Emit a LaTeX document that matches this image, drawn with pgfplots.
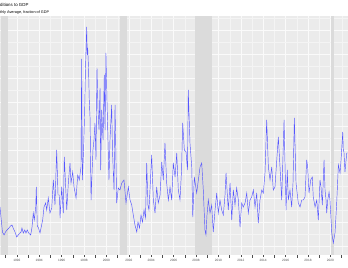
\documentclass[border=0pt]{standalone}
\usepackage{pgfplots}
\pgfplotsset{compat=1.18}
\usepackage{pgfplotstable}
\usepackage{fontspec}
\setmainfont{Liberation Sans}
\definecolor{panel}{RGB}{235,235,235}
\definecolor{recess}{RGB}{219,219,219}
\definecolor{series}{RGB}{85,85,255}
\definecolor{axtext}{RGB}{77,77,77}
\definecolor{gridmaj}{RGB}{250,250,250}
\definecolor{gridmin}{RGB}{244,244,244}

\pgfplotstableread{
year v
1990.50 48
1990.63 33
1990.72 23
1990.86 20
1990.99 23
1991.13 25
1991.30 27
1991.44 29
1991.57 30
1991.71 26
1991.84 23
1991.99 18
1992.13 20
1992.29 22
1992.38 23
1992.46 27
1992.58 22
1992.71 25
1992.82 22
1992.94 25
1993.06 22
1993.24 20
1993.36 28
1993.47 42
1993.56 35
1993.69 48
1993.74 68
1993.83 29
1993.94 27
1994.07 22
1994.22 30
1994.31 35
1994.43 48
1994.58 52
1994.67 45
1994.81 57
1994.96 42
1995.12 47
1995.26 75
1995.41 50
1995.56 105
1995.68 60
1995.81 60
1995.86 37
1996.01 68
1996.15 42
1996.24 98
1996.39 62
1996.46 45
1996.60 72
1996.75 92
1996.84 72
1996.99 83
1997.11 68
1997.29 57
1997.44 80
1997.58 75
1997.73 88
1997.79 196
1997.85 75
1997.96 105
1998.04 135
1998.13 185
1998.24 228
1998.29 200
1998.33 207
1998.40 188
1998.47 155
1998.54 137
1998.63 55
1998.71 80
1998.80 105
1998.89 115
1998.98 132
1999.07 95
1999.16 187
1999.25 145
1999.34 125
1999.43 167
1999.49 85
1999.58 145
1999.70 115
1999.81 180
1999.88 125
1999.96 202
2000.05 155
2000.14 115
2000.23 75
2000.32 115
2000.47 150
2000.54 105
2000.68 65
2000.77 150
2000.92 52
2001.06 67
2001.21 65
2001.37 72
2001.57 75
2001.75 52
2001.96 68
2002.11 55
2002.26 50
2002.40 40
2002.55 30
2002.71 23
2002.82 33
2002.96 27
2003.09 40
2003.22 33
2003.36 45
2003.49 37
2003.60 92
2003.71 50
2003.80 45
2003.89 65
2004.04 100
2004.19 55
2004.34 42
2004.49 68
2004.63 52
2004.79 60
2004.94 93
2005.08 75
2005.23 112
2005.38 72
2005.53 55
2005.68 68
2005.83 55
2005.97 92
2006.13 78
2006.28 102
2006.42 65
2006.57 55
2006.71 85
2006.81 132
2006.96 105
2007.11 103
2007.24 85
2007.31 165
2007.46 112
2007.62 88
2007.71 38
2007.85 78
2008.06 62
2008.21 75
2008.36 88
2008.51 92
2008.65 65
2008.80 25
2008.89 20
2008.98 40
2009.10 55
2009.25 42
2009.40 50
2009.54 23
2009.70 45
2009.85 62
2009.99 42
2010.14 55
2010.29 45
2010.44 40
2010.59 60
2010.68 82
2010.88 45
2011.04 72
2011.19 35
2011.33 65
2011.48 50
2011.63 67
2011.78 55
2011.93 28
2012.08 52
2012.22 48
2012.38 52
2012.53 62
2012.67 42
2012.82 55
2012.97 58
2013.12 65
2013.27 48
2013.42 62
2013.56 32
2013.71 55
2013.87 65
2014.01 62
2014.16 82
2014.31 135
2014.46 88
2014.61 75
2014.76 88
2014.90 65
2015.05 68
2015.21 95
2015.35 118
2015.50 88
2015.65 55
2015.86 135
2016.04 45
2016.15 85
2016.24 55
2016.39 65
2016.54 48
2016.66 72
2016.78 137
2016.93 72
2017.13 52
2017.29 48
2017.44 55
2017.58 55
2017.73 58
2017.88 95
2017.97 88
2018.09 62
2018.24 75
2018.38 78
2018.47 58
2018.63 48
2018.78 55
2018.92 35
2019.07 75
2019.16 68
2019.28 50
2019.43 95
2019.52 65
2019.61 55
2019.67 42
2019.76 55
2019.88 63
2019.96 55
2020.12 22
2020.26 12
2020.41 22
2020.56 52
2020.71 90
2020.86 82
2020.95 95
2021.10 123
2021.15 105
2021.21 103
2021.30 83
2021.46 102
2021.57 102
}\series

\begin{document}
\begin{tikzpicture}[x=1bp,y=1bp]
\path[use as bounding box] (0,0) rectangle (348,268);
\clip (0,0) rectangle (348,268);
\node[anchor=base west,inner sep=0pt,text=black,font=\fontsize{4.4}{5}\selectfont] at (0,262) {ditions to GDP};
\node[anchor=base west,inner sep=0pt,text=black,font=\fontsize{3.8}{4.5}\selectfont] at (0,254.5) {thly Average, fraction of GDP};
\begin{axis}[
  at={(0bp,13bp)}, anchor=south west,
  scale only axis, width=348bp, height=239bp,
  xmin=1990.5, xmax=2021.57, ymin=0, ymax=239,
  axis background/.style={fill=panel},
  axis line style={draw=none},
  xtick={1992,1994,...,2020},
  minor xtick={1991,1993,...,2021},
  ytick={9,33,...,225},
  minor ytick={21,45,...,237},
  yticklabels={},
  grid=both,
  major grid style={gridmaj,line width=0.35pt},
  minor grid style={gridmin,line width=0.2pt},
  x tick label style={/pgf/number format/1000 sep={},font=\fontsize{3.2}{3.5}\selectfont,text=axtext,yshift=1.5bp},
  /pgf/number format/assume math mode=true,
  xtick style={draw=axtext,line width=0.3pt},
  ytick style={draw=none},
  minor tick style={draw=none},
  major tick length=2bp,
  tick align=outside,
  xtick pos=bottom,
  clip=true,
]
\addplot[fill=recess,draw=none] coordinates {(1990.58,0) (1991.25,0) (1991.25,239) (1990.58,239)} --cycle;
\addplot[fill=recess,draw=none] coordinates {(2001.17,0) (2001.83,0) (2001.83,239) (2001.17,239)} --cycle;
\addplot[fill=recess,draw=none] coordinates {(2007.92,0) (2009.42,0) (2009.42,239) (2007.92,239)} --cycle;
\addplot[fill=recess,draw=none] coordinates {(2020.08,0) (2020.33,0) (2020.33,239) (2020.08,239)} --cycle;
\addplot[series,line width=0.45pt,no marks] table[x=year,y=v] {\series};
\end{axis}
\end{tikzpicture}
\end{document}
